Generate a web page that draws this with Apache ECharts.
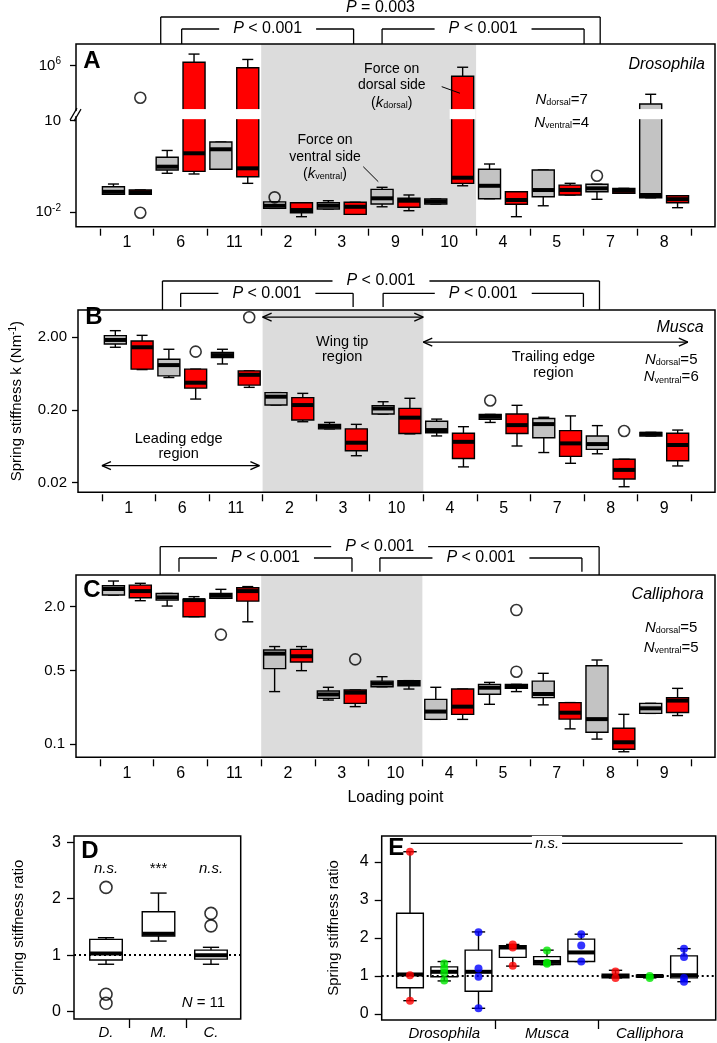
<!DOCTYPE html>
<html>
<head>
<meta charset="utf-8">
<script src="https://cdn.jsdelivr.net/npm/echarts@6.0.0/dist/echarts.min.js"></script>
<style>
html,body{margin:0;padding:0;background:#fff;}
#chart{width:717px;height:1043px;}
</style>
</head>
<body>
<div id="chart"></div>
<script>
// ================= DATA =================
// Panel A: Drosophila  -- [min, q1, median, q3, max] spring stiffness k (N/m)
const catsA = ['1','6','11','2','3','9','10','4','5','7','8'];
const dorsalA = [
  [0.039, 0.039, 0.047, 0.069, 0.0845],
  [0.19, 0.243, 0.312, 0.634, 1.06],
  [0.256, 0.256, 1.16, 2.0, 2.0],
  [0.0135, 0.0135, 0.0164, 0.022, 0.022],
  [0.0128, 0.0128, 0.0164, 0.0206, 0.024],
  [0.0152, 0.0187, 0.0288, 0.0566, 0.066],
  [0.0187, 0.0187, 0.0226, 0.0273, 0.0273],
  [0.028, 0.028, 0.074, 0.256, 0.382],
  [0.0164, 0.0325, 0.0537, 0.243, 0.243],
  [0.0267, 0.047, 0.061, 0.083, 0.083],
  [0.030, 0.030, 0.037, 5.6e4, 1.16e5]
];
const ventralA = [
  [0.039, 0.039, 0.045, 0.054, 0.054],
  [0.18, 0.22, 0.857, 1.29e6, 2.4e6],
  [0.089, 0.147, 0.276, 8.6e5, 1.6e6],
  [0.0072, 0.0097, 0.0119, 0.0206, 0.0206],
  [0.0086, 0.0086, 0.0152, 0.0213, 0.0213],
  [0.0113, 0.0146, 0.024, 0.0288, 0.037],
  [0.074, 0.089, 0.136, 4.5e5, 8.9e5],
  [0.0072, 0.0183, 0.0253, 0.047, 0.047],
  [0.037, 0.037, 0.054, 0.078, 0.089],
  [0.042, 0.042, 0.051, 0.061, 0.061],
  [0.0142, 0.0206, 0.027, 0.035, 0.035]
];
const outDorsalA = [[3, 0.031], [9, 0.158]];      // [category index, k]
const outVentralA = [[0, 8.9e4], [0, 0.0097]];
const yTicksA = [1e6, 10, 0.01];
const yTickLabelsA = ['10{s|6}', '10', '10{s|-2}'];

// Panel B: Musca
const catsBC = ['1','6','11','2','3','10','4','5','7','8','9'];
const dorsalB = [
  [1.46, 1.62, 1.84, 2.11, 2.47],
  [0.56, 0.59, 0.83, 1.0, 1.37],
  [0.86, 1.05, 1.14, 1.24, 1.37],
  [0.234, 0.234, 0.305, 0.347, 0.347],
  [0.11, 0.11, 0.118, 0.127, 0.135],
  [0.176, 0.176, 0.21, 0.23, 0.26],
  [0.088, 0.0975, 0.106, 0.14, 0.15],
  [0.135, 0.149, 0.162, 0.174, 0.174],
  [0.052, 0.083, 0.128, 0.153, 0.159],
  [0.050, 0.0575, 0.068, 0.088, 0.122],
  [0.088, 0.088, 0.094, 0.0985, 0.0985]
];
const ventralB = [
  [0.72, 0.73, 1.46, 1.78, 2.13],
  [0.283, 0.40, 0.475, 0.73, 0.73],
  [0.41, 0.44, 0.61, 0.69, 0.69],
  [0.138, 0.146, 0.234, 0.296, 0.339],
  [0.047, 0.055, 0.071, 0.11, 0.127],
  [0.094, 0.095, 0.157, 0.211, 0.29],
  [0.033, 0.043, 0.073, 0.096, 0.118],
  [0.064, 0.095, 0.124, 0.176, 0.232],
  [0.037, 0.046, 0.0695, 0.104, 0.166],
  [0.0176, 0.0225, 0.030, 0.042, 0.042],
  [0.034, 0.040, 0.066, 0.096, 0.106]
];
const outDorsalB = [[7, 0.27]];
const outVentralB = [[1, 1.27], [2, 3.77], [9, 0.103]];
const yTicksB = [2, 0.2, 0.02];
const yTickLabelsB = ['2.00', '0.20', '0.02'];

// Panel C: Calliphora
const dorsalC = [
  [2.58, 2.58, 2.94, 3.16, 3.5],
  [2.03, 2.31, 2.45, 2.67, 2.67],
  [2.40, 2.40, 2.54, 2.67, 2.92],
  [0.315, 0.52, 0.72, 0.78, 0.84],
  [0.262, 0.272, 0.296, 0.319, 0.346],
  [0.35, 0.35, 0.376, 0.396, 0.436],
  [0.172, 0.172, 0.204, 0.266, 0.346],
  [0.239, 0.297, 0.343, 0.369, 0.385],
  [0.236, 0.276, 0.299, 0.396, 0.469],
  [0.112, 0.13, 0.173, 0.553, 0.627],
  [0.196, 0.196, 0.219, 0.244, 0.244]
];
const ventralC = [
  [2.28, 2.43, 2.81, 3.2, 3.33],
  [1.61, 1.61, 2.31, 2.36, 2.49],
  [1.44, 2.26, 2.81, 3.02, 3.1],
  [0.497, 0.60, 0.68, 0.79, 0.84],
  [0.227, 0.244, 0.308, 0.326, 0.326],
  [0.333, 0.358, 0.38, 0.40, 0.40],
  [0.172, 0.192, 0.227, 0.333, 0.333],
  [0.315, 0.338, 0.355, 0.369, 0.369],
  [0.14, 0.173, 0.199, 0.248, 0.248],
  [0.085, 0.0897, 0.1045, 0.142, 0.192],
  [0.187, 0.2, 0.259, 0.276, 0.338]
];
const outDorsalC = [[2, 1.09]];
const outVentralC = [[4, 0.635], [7, 1.86], [7, 0.486]];
const yTicksC = [2, 0.5, 0.1];
const yTickLabelsC = ['2.0', '0.5', '0.1'];

// Panel D: spring stiffness ratio per species
const catsD = ['D.', 'M.', 'C.'];
const boxesD = [
  [0.84, 0.915, 1.03, 1.28, 1.31],
  [1.25, 1.34, 1.38, 1.77, 2.1],
  [0.84, 0.93, 1.0, 1.09, 1.14]
];
const outliersD = [[0, 2.2], [0, 0.31], [0, 0.15], [2, 1.74], [2, 1.52]];
const signifD = ['n.s.', '***', 'n.s.'];

// Panel E: ratio per wing region (leading, tip, trailing) per species
const groupsE = ['Drosophila', 'Musca', 'Calliphora'];
const boxesE = [
  [0.35, 0.69, 1.04, 2.65, 4.27],
  [0.87, 0.98, 1.11, 1.24, 1.38],
  [0.15, 0.6, 1.11, 1.68, 2.16],
  [1.26, 1.49, 1.75, 1.8, 1.83],
  [1.3, 1.3, 1.37, 1.51, 1.68],
  [1.38, 1.38, 1.62, 1.97, 2.1],
  [0.95, 0.95, 1.0, 1.05, 1.15],
  [0.95, 0.97, 1.0, 1.02, 1.03],
  [0.85, 0.95, 1.02, 1.53, 1.72]
];
const pointsE = [
  [4.27, 1.02, 0.35],
  [1.33, 1.2, 1.08, 0.88],
  [2.15, 1.2, 0.98, 0.15],
  [1.83, 1.75, 1.27],
  [1.67, 1.35, 1.32],
  [2.1, 1.8, 1.38],
  [1.12, 0.95],
  [1.0, 0.95],
  [1.72, 1.5, 0.95, 0.85]
];

// ================= HELPERS =================
const FONT = "'Liberation Sans', Arial, Helvetica, sans-serif";
const L10 = Math.log10;
// Panel A uses a broken log axis: values above 10^3 are shifted down by 3.2 decades
const BREAK_SHIFT = 3.2;
function tA(k) { const l = L10(k); return l > 3 ? l - BREAK_SHIFT : l; }
const GAP_A = [1.05, 1.38];   // display-units band hidden by the axis break

const XR = {min: -0.947, max: 10.947};
const YA = {min: -2.47, max: 3.51};
const YB = {min: -1.831, max: 0.677};
const YC = {min: -1.123, max: 0.601};
const YD = {min: -0.129, max: 3.11};
const YE = {min: -0.158, max: 4.684};
const XD = {min: 0.39, max: 3.566};
const XE = {min: 0.174, max: 9.925};

const GRAY = '#c3c3c3', RED = '#ff0000', SHADE = '#dcdcdc';
const E_COLORS = ['#ff0000', '#00e600', '#0000ff'];

function range(a, b) { const r = []; for (let i = a; i <= b; i++) r.push(i); return r; }

function boxSeries(g, data, offset, halfW, fill, gap) {
  return {
    type: 'custom', xAxisIndex: g, yAxisIndex: g, z: 3, silent: true,
    data: data, encode: {x: 0, y: [1, 2, 3, 4, 5]},
    renderItem: function (p, api) {
      const x = api.value(0) + offset;
      const v = [1, 2, 3, 4, 5].map(i => api.value(i));
      const y = v.map(t => api.coord([x, t])[1]);
      const cx = api.coord([x, v[2]])[0];
      const hw = api.size([halfW, 0])[0];
      const cw = hw / 2;
      const ls = {stroke: '#000', lineWidth: 1.4};
      const ch = [
        {type: 'line', shape: {x1: cx, y1: y[3], x2: cx, y2: y[4]}, style: ls},
        {type: 'line', shape: {x1: cx - cw, y1: y[4], x2: cx + cw, y2: y[4]}, style: ls},
        {type: 'line', shape: {x1: cx, y1: y[1], x2: cx, y2: y[0]}, style: ls},
        {type: 'line', shape: {x1: cx - cw, y1: y[0], x2: cx + cw, y2: y[0]}, style: ls},
        {type: 'rect', shape: {x: cx - hw, y: y[3], width: 2 * hw, height: y[1] - y[3]},
          style: {fill: fill, stroke: '#000', lineWidth: 1.4}},
        {type: 'line', shape: {x1: cx - hw, y1: y[2], x2: cx + hw, y2: y[2]},
          style: {stroke: '#000', lineWidth: 4}}
      ];
      if (gap && v[3] > gap[1] && v[1] < gap[0]) {
        const g1 = api.coord([x, gap[1]])[1], g0 = api.coord([x, gap[0]])[1];
        ch.push({type: 'rect', shape: {x: cx - hw - 2, y: g1, width: 2 * hw + 4, height: g0 - g1},
          style: {fill: '#fff'}});
      }
      return {type: 'group', children: ch};
    }
  };
}

function outlierSeries(g, data, symbolSize) {
  return {
    type: 'scatter', xAxisIndex: g, yAxisIndex: g, z: 4, silent: true,
    symbol: 'circle', symbolSize: symbolSize || 11, data: data,
    itemStyle: {color: 'rgba(0,0,0,0)', borderColor: '#000', borderWidth: 1.6}
  };
}

function regionSeries(g, x1, x2, Y) {
  return {
    type: 'custom', xAxisIndex: g, yAxisIndex: g, z: 1, silent: true,
    data: [[x1, x2]],
    renderItem: function (p, api) {
      const a = api.coord([api.value(0), Y.max]);
      const b = api.coord([api.value(1), Y.min]);
      return {type: 'rect', shape: {x: a[0], y: a[1], width: b[0] - a[0], height: b[1] - a[1]},
        style: {fill: SHADE}};
    }
  };
}

function ln(x1, y1, x2, y2, w) {
  return {type: 'line', shape: {x1, y1, x2, y2}, style: {stroke: '#000', lineWidth: w || 1.3}};
}
const RICH = {
  i: {fontStyle: 'italic', fontFamily: FONT, fontSize: 16},
  ii: {fontStyle: 'italic', fontFamily: FONT, fontSize: 15},
  sub: {fontFamily: FONT, fontSize: 9, verticalAlign: 'bottom', padding: [6, 0, 0, 0]},
  s: {fontFamily: FONT, fontSize: 10, verticalAlign: 'top', padding: [0, 0, 7, 0]}
};
function tx(x, y, text, o) {
  o = o || {};
  return {
    type: 'text', x: x, y: y,
    style: {
      text: text, fill: '#000', fontFamily: FONT, fontSize: o.size || 15,
      fontWeight: o.bold ? 'bold' : 'normal', fontStyle: o.italic ? 'italic' : 'normal',
      align: o.align || 'center', verticalAlign: 'middle', rich: RICH,
      backgroundColor: o.bg, padding: o.pad
    }
  };
}
function arrowHead(x, y, dir) { // dir: +1 pointing right, -1 pointing left
  const L = 9, H = 4;
  return [ln(x, y, x - dir * L, y - H), ln(x, y, x - dir * L, y + H)];
}
function dblArrow(api, x1, x2, yv) {
  const a = api.coord([x1, yv]), b = api.coord([x2, yv]);
  return [ln(a[0], a[1], b[0], b[1])].concat(arrowHead(a[0], a[1], -1), arrowHead(b[0], b[1], 1));
}
function bracket(api, x1, x2, top, dy, drop, label, mode, Y) {
  const a = api.coord([x1, Y.max])[0], b = api.coord([x2, Y.max])[0];
  const yl = top - dy, ye = top - drop;
  const out = [ln(a, yl, b, yl), ln(a, yl, a, ye), ln(b, yl, b, ye)];
  if (mode === 'above') out.push(tx((a + b) / 2, yl - 9, label, {size: 16}));
  else out.push(tx((a + b) / 2, yl, label, {size: 16, bg: '#fff', pad: [0, 14]}));
  return out;
}
function frame(api, X, Y) {
  const a = api.coord([X.min, Y.max]), b = api.coord([X.max, Y.min]);
  return {type: 'rect', shape: {x: a[0], y: a[1], width: b[0] - a[0], height: b[1] - a[1]},
    style: {fill: 'none', stroke: '#000', lineWidth: 1.5}};
}
function annotSeries(g, draw) {
  return {
    type: 'custom', xAxisIndex: g, yAxisIndex: g, z: 6, silent: true, data: [[0, 0]],
    renderItem: function (p, api) { return {type: 'group', children: draw(api)}; }
  };
}

const PL = '{i|P} < 0.001';

// ----- annotations -----
function drawA(api) {
  const top = api.coord([0, YA.max])[1];
  const c = [frame(api, XR, YA)];
  c.push(...bracket(api, 0.63, 8.81, top, 27, 0, '{i|P} = 0.003', 'above', YA));
  c.push(...bracket(api, 1.02, 4.22, top, 15, 0, PL, 'inline', YA));
  c.push(...bracket(api, 4.75, 8.51, top, 15, 0, PL, 'inline', YA));
  // axis break marks
  const xl = api.coord([XR.min, 0])[0];
  const yc = api.coord([0, (GAP_A[0] + GAP_A[1]) / 2])[1];
  c.push({type: 'rect', shape: {x: xl - 2, y: yc - 3, width: 4, height: 5}, style: {fill: '#fff'}});
  c.push(ln(xl - 6, yc + 6, xl + 1, yc - 6, 1.2), ln(xl - 2, yc + 7, xl + 5, yc - 5, 1.2));
  let p;
  p = api.coord([-0.811, 2.93]); c.push(tx(p[0], p[1], 'A', {size: 24, bold: true, align: 'left'}));
  p = api.coord([10.76, 2.825]); c.push(tx(p[0], p[1], 'Drosophila', {size: 16, italic: true, align: 'right'}));
  p = api.coord([8.093, 1.678]); c.push(tx(p[0], p[1], '{ii|N}{sub|dorsal}=7', {size: 15}));
  p = api.coord([8.093, 0.935]); c.push(tx(p[0], p[1], '{ii|N}{sub|ventral}=4', {size: 15}));
  p = api.coord([4.93, 2.684]); c.push(tx(p[0], p[1], 'Force on', {size: 14}));
  p = api.coord([4.93, 2.170]); c.push(tx(p[0], p[1], 'dorsal side', {size: 14}));
  p = api.coord([4.93, 1.590]); c.push(tx(p[0], p[1], '({ii|k}{sub|dorsal})', {size: 14}));
  let a = api.coord([5.86, 2.114]), b = api.coord([6.2, 1.898]);
  c.push(ln(a[0], a[1], b[0], b[1], 1));
  p = api.coord([3.688, 0.368]); c.push(tx(p[0], p[1], 'Force on', {size: 14}));
  p = api.coord([3.688, -0.179]); c.push(tx(p[0], p[1], 'ventral side', {size: 14}));
  p = api.coord([3.688, -0.745]); c.push(tx(p[0], p[1], '({ii|k}{sub|ventral})', {size: 14}));
  a = api.coord([4.40, -0.506]); b = api.coord([4.68, -0.998]);
  c.push(ln(a[0], a[1], b[0], b[1], 1));
  return c;
}
function drawB(api) {
  const top = api.coord([0, YB.max])[1];
  const c = [frame(api, XR, YB)];
  c.push(...bracket(api, 0.63, 8.79, top, 29, 0, PL, 'inline', YB));
  c.push(...bracket(api, 0.97, 4.19, top, 16.7, 3, PL, 'inline', YB));
  c.push(...bracket(api, 4.75, 8.49, top, 16.7, 3, PL, 'inline', YB));
  let p;
  p = api.coord([-0.811, 0.58]); c.push(tx(p[0], p[1], 'B', {size: 24, bold: true, align: 'left'}));
  p = api.coord([10.735, 0.429]); c.push(tx(p[0], p[1], 'Musca', {size: 16, italic: true, align: 'right'}));
  p = api.coord([10.13, -0.011]); c.push(tx(p[0], p[1], '{ii|N}{sub|dorsal}=5', {size: 15}));
  p = api.coord([10.13, -0.245]); c.push(tx(p[0], p[1], '{ii|N}{sub|ventral}=6', {size: 15}));
  c.push(...dblArrow(api, 2.5, 5.5, 0.58));
  p = api.coord([3.986, 0.236]); c.push(tx(p[0], p[1], 'Wing tip', {size: 14.5}));
  p = api.coord([3.986, 0.030]); c.push(tx(p[0], p[1], 'region', {size: 14.5}));
  c.push(...dblArrow(api, 5.5, 10.44, 0.236));
  p = api.coord([7.93, 0.030]); c.push(tx(p[0], p[1], 'Trailing edge', {size: 14.5}));
  p = api.coord([7.93, -0.190]); c.push(tx(p[0], p[1], 'region', {size: 14.5}));
  c.push(...dblArrow(api, -0.5, 2.44, -1.465));
  p = api.coord([0.933, -1.098]); c.push(tx(p[0], p[1], 'Leading edge', {size: 14.5}));
  p = api.coord([0.933, -1.304]); c.push(tx(p[0], p[1], 'region', {size: 14.5}));
  return c;
}
function drawC(api) {
  const top = api.coord([0, YC.max])[1];
  const c = [frame(api, XR, YC)];
  c.push(...bracket(api, 0.62, 8.79, top, 28.3, 0, PL, 'inline', YC));
  c.push(...bracket(api, 0.97, 4.19, top, 17, 3.3, PL, 'inline', YC));
  c.push(...bracket(api, 4.71, 8.47, top, 17, 3.3, PL, 'inline', YC));
  let p;
  p = api.coord([-0.811, 0.459]); c.push(tx(p[0], p[1], 'C', {size: 24, bold: true, align: 'left'}));
  p = api.coord([10.735, 0.412]); c.push(tx(p[0], p[1], 'Calliphora', {size: 16, italic: true, align: 'right'}));
  p = api.coord([10.13, 0.100]); c.push(tx(p[0], p[1], '{ii|N}{sub|dorsal}=5', {size: 15}));
  p = api.coord([10.13, -0.089]); c.push(tx(p[0], p[1], '{ii|N}{sub|ventral}=5', {size: 15}));
  return c;
}
function drawD(api) {
  const c = [frame(api, XD, YD)];
  let p;
  p = api.coord([0.53, 2.83]); c.push(tx(p[0], p[1], 'D', {size: 24, bold: true, align: 'left'}));
  signifD.forEach((s, i) => {
    p = api.coord([i + 1, 2.53]);
    c.push(tx(p[0], p[1], s, {size: 15, italic: s !== '***'}));
  });
  p = api.coord([3.27, 0.15]); c.push(tx(p[0], p[1], '{ii|N} = 11', {size: 15, align: 'right'}));
  return c;
}
function drawE(api) {
  const c = [frame(api, XE, YE)];
  let p;
  p = api.coord([0.366, 4.37]); c.push(tx(p[0], p[1], 'E', {size: 24, bold: true, align: 'left'}));
  const a = api.coord([1.02, 4.49]), b = api.coord([8.96, 4.49]);
  c.push(ln(a[0], a[1], b[0], b[1], 1.3));
  p = api.coord([5.0, 4.49]);
  c.push(tx(p[0], p[1], 'n.s.', {size: 15, italic: true, bg: '#fff', pad: [0, 3]}));
  return c;
}

// ================= AXES =================
function xCat(g, cats, name) {
  return {
    type: 'value', gridIndex: g, min: XR.min, max: XR.max, offset: 2,
    axisLine: {show: false, onZero: false}, splitLine: {show: false},
    axisTick: {show: true, customValues: range(0, cats.length).map(i => i - 0.5), length: 7,
      lineStyle: {color: '#000', width: 1.3}},
    axisLabel: {customValues: range(0, cats.length - 1), formatter: v => cats[Math.round(v)],
      color: '#000', fontSize: 16, fontFamily: FONT, margin: 6},
    name: name || '', nameLocation: 'middle', nameGap: 30,
    nameTextStyle: {color: '#000', fontSize: 16, fontFamily: FONT}
  };
}
function yLog(g, Y, tickVals, tickLabels, tf, margin, name) {
  const pos = tickVals.map(tf);
  return {
    type: 'value', gridIndex: g, min: Y.min, max: Y.max,
    axisLine: {show: false, onZero: false}, splitLine: {show: false},
    axisTick: {show: true, customValues: pos, length: 6, lineStyle: {color: '#000', width: 1.3}},
    axisLabel: {customValues: pos, color: '#000', fontSize: 15, fontFamily: FONT, margin: margin,
      formatter: v => tickLabels[pos.findIndex(t => Math.abs(t - v) < 1e-6)] || '',
      rich: {s: {fontSize: 10, fontFamily: FONT, verticalAlign: 'top', padding: [0, 0, 8, 0]}}},
    name: name || '', nameLocation: 'middle', nameGap: 52,
    nameTextStyle: {color: '#000', fontSize: 15, fontFamily: FONT,
      rich: {s: {fontSize: 10, fontFamily: FONT, verticalAlign: 'top', padding: [0, 0, 8, 0]}}}
  };
}
function yLin(g, Y, ticks, nameGap) {
  return {
    type: 'value', gridIndex: g, min: Y.min, max: Y.max,
    axisLine: {show: false, onZero: false}, splitLine: {show: false},
    axisTick: {show: true, customValues: ticks, length: 7, lineStyle: {color: '#000', width: 1.3}},
    axisLabel: {customValues: ticks, color: '#000', fontSize: 16, fontFamily: FONT, margin: 13,
      formatter: v => String(Math.round(v))},
    name: 'Spring stiffness ratio', nameLocation: 'middle', nameGap: nameGap,
    nameTextStyle: {color: '#000', fontSize: 15, fontFamily: FONT}
  };
}

// ================= SERIES =================
const series = [];
const OFF = 0.25, HW = 0.205;
function buildPanel(g, dorsal, ventral, outD, outV, tf, regionX, Y, gap) {
  series.push(regionSeries(g, regionX[0], regionX[1], Y));
  series.push(boxSeries(g, dorsal.map((s, i) => [i].concat(s.map(tf))), -OFF, HW, GRAY, gap));
  series.push(boxSeries(g, ventral.map((s, i) => [i].concat(s.map(tf))), OFF, HW, RED, gap));
  series.push(outlierSeries(g, outD.map(o => [o[0] - OFF, tf(o[1])])));
  series.push(outlierSeries(g, outV.map(o => [o[0] + OFF, tf(o[1])])));
}
buildPanel(0, dorsalA, ventralA, outDorsalA, outVentralA, tA, [2.5, 6.5], YA, GAP_A);
buildPanel(1, dorsalB, ventralB, outDorsalB, outVentralB, L10, [2.5, 5.5], YB, null);
buildPanel(2, dorsalC, ventralC, outDorsalC, outVentralC, L10, [2.5, 5.5], YC, null);

// Panel D
const dotted = {silent: true, symbol: 'none', label: {show: false},
  lineStyle: {type: [2, 3], color: '#000', width: 2}, data: [{yAxis: 1}], z: 5};
series.push(boxSeries(3, boxesD.map((s, i) => [i + 1].concat(s)), 0, 0.31, '#fff', null));
series.push(outlierSeries(3, outliersD.map(o => [o[0] + 1, o[1]]), 12));
series.push({type: 'line', xAxisIndex: 3, yAxisIndex: 3, data: [], z: 5, markLine: dotted});

// Panel E
series.push(boxSeries(4, boxesE.map((s, i) => [i + 1].concat(s)), 0, 0.39, '#fff', null));
series.push({type: 'line', xAxisIndex: 4, yAxisIndex: 4, data: [], z: 4, markLine: dotted});
E_COLORS.forEach((col, k) => {
  const pts = [];
  pointsE.forEach((arr, i) => { if (i % 3 === k) arr.forEach(v => pts.push([i + 1, v])); });
  series.push({type: 'scatter', xAxisIndex: 4, yAxisIndex: 4, z: 5, silent: true,
    symbol: 'circle', symbolSize: 8, data: pts, itemStyle: {color: col}});
});

series.push(annotSeries(0, drawA));
series.push(annotSeries(1, drawB));
series.push(annotSeries(2, drawC));
series.push(annotSeries(3, drawD));
series.push(annotSeries(4, drawE));

const option = {
  animation: false,
  backgroundColor: '#fff',
  textStyle: {fontFamily: FONT},
  grid: [
    {left: 76, top: 44, width: 639, height: 182.7},
    {left: 76, top: 310, width: 639, height: 182.3},
    {left: 76, top: 575, width: 639, height: 182.3},
    {left: 74, top: 836, width: 166.7, height: 183},
    {left: 381.7, top: 836, width: 334, height: 184}
  ],
  xAxis: [
    xCat(0, catsA),
    xCat(1, catsBC),
    xCat(2, catsBC, 'Loading point'),
    {type: 'value', gridIndex: 3, min: XD.min, max: XD.max,
      axisLine: {show: false, onZero: false}, splitLine: {show: false},
      axisTick: {show: true, customValues: [1.44, 2.52], length: 9, lineStyle: {color: '#000', width: 1.3}},
      axisLabel: {customValues: [1, 2, 3], formatter: v => catsD[Math.round(v) - 1],
        color: '#000', fontSize: 15, fontStyle: 'italic', fontFamily: FONT, margin: 6}},
    {type: 'value', gridIndex: 4, min: XE.min, max: XE.max,
      axisLine: {show: false, onZero: false}, splitLine: {show: false},
      axisTick: {show: true, customValues: [3.5, 6.5], length: 9, lineStyle: {color: '#000', width: 1.3}},
      axisLabel: {customValues: [2, 5, 8], formatter: v => groupsE[Math.round((v - 2) / 3)],
        color: '#000', fontSize: 15, fontStyle: 'italic', fontFamily: FONT, margin: 6}}
  ],
  yAxis: [
    yLog(0, YA, yTicksA, yTickLabelsA, tA, 15),
    yLog(1, YB, yTicksB, yTickLabelsB, L10, 11, 'Spring stiffness k (Nm{s|-1})'),
    yLog(2, YC, yTicksC, yTickLabelsC, L10, 11),
    yLin(3, YD, [0, 1, 2, 3], 48),
    yLin(4, YE, [0, 1, 2, 3, 4], 40)
  ],
  series: series
};
const chart = echarts.init(document.getElementById('chart'), null, {renderer: 'canvas'});
chart.setOption(option);
</script>
</body>
</html>
